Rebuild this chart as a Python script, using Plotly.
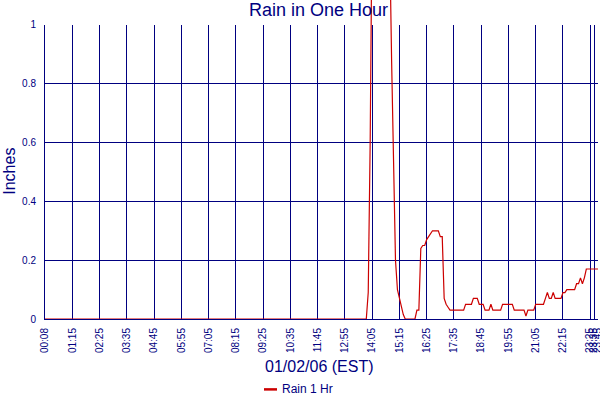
import plotly.graph_objects as go

# ---- data ----
start_label = "00:08"
# 5-minute sample times after the first reading (00:10 .. 23:45)
times = [start_label] + [f"{m // 60:02d}:{m % 60:02d}" for m in range(10, 23 * 60 + 46, 5)]

tick_labels = ["00:08", "01:15", "02:25", "03:35", "04:45", "05:55", "07:05", "08:15",
               "09:25", "10:35", "11:45", "12:55", "14:05", "15:15", "16:25", "17:35",
               "18:45", "19:55", "21:05", "22:15", "23:25", "23:35", "23:45"]

y_ticks = [0, 0.2, 0.4, 0.6, 0.8, 1]
y_tick_text = ["0", "0.2", "0.4", "0.6", "0.8", "1"]

rain_1hr = (
    [0.0] * 166 +
    [0.09, 0.60, 1.40, 1.60, 1.70, 1.75, 1.80, 1.80, 1.75, 1.60, 1.45, 1.30,   # 166-177
     0.88, 0.54, 0.20, 0.10, 0.07, 0.04, 0.015, 0.0,                            # 178-185
     0.0, 0.0, 0.0, 0.0, 0.0,                                                   # 186-190
     0.03, 0.03, 0.24, 0.25, 0.25, 0.27, 0.28, 0.29, 0.30, 0.30, 0.30, 0.30,    # 191-202
     0.28, 0.28, 0.07, 0.05, 0.04,                                              # 203-207
     0.03, 0.03, 0.03, 0.03, 0.03, 0.03, 0.03, 0.03,                            # 208-215
     0.05, 0.05, 0.05, 0.05, 0.07, 0.07, 0.07,                                  # 216-222
     0.05, 0.05, 0.05, 0.03, 0.03, 0.03, 0.05, 0.03,                            # 223-230
     0.03, 0.03, 0.03, 0.03,                                                    # 231-234
     0.05, 0.05, 0.05, 0.05, 0.05, 0.05,                                        # 235-240
     0.03, 0.03, 0.03, 0.03, 0.03, 0.03, 0.01, 0.03, 0.03, 0.03, 0.03,          # 241-251
     0.05, 0.05, 0.05, 0.05, 0.05,                                              # 252-256
     0.07, 0.09, 0.07, 0.07, 0.09, 0.07, 0.07, 0.07, 0.07,                      # 257-265
     0.09, 0.09, 0.10, 0.10, 0.10, 0.10, 0.10,                                  # 266-272
     0.12, 0.12, 0.14, 0.12, 0.14,                                              # 273-277
     0.17, 0.17, 0.17, 0.17, 0.17, 0.17, 0.17]                                  # 278-284
)

series_name = "Rain 1 Hr"
title_text = "Rain in One Hour"
x_title = "01/02/06 (EST)"
y_title = "Inches"

# ---- styling ----
NAVY = "#000080"
RED = "#CC0000"
FONT = "Liberation Sans"

W, H = 600, 400
ML, MR, MT, MB = 45, 2, 0, 80.5
plot_w = W - ML - MR
plot_h = H - MT - MB
y_one_px = 25          # pixel row of value 1
unit_px = plot_h - y_one_px

def px_x(p):
    return (p - ML) / plot_w

def px_y(p):
    return (H - MB - p) / plot_h

fig = go.Figure()

# invisible trace on the main axes so the grid subplot exists
fig.add_trace(go.Scatter(x=times, y=[None] * len(times), xaxis="x", yaxis="y",
                         showlegend=False, hoverinfo="skip"))

fig.add_trace(go.Scatter(
    x=times, y=rain_1hr, mode="lines", name=series_name,
    line=dict(color=RED, width=1.2), xaxis="x2", yaxis="y2", showlegend=False,
))

fig.update_layout(
    width=W, height=H,
    margin=dict(l=ML, r=MR, t=MT, b=MB, autoexpand=False),
    paper_bgcolor="white", plot_bgcolor="rgba(0,0,0,0)",
    font=dict(family=FONT, color=NAVY),
    showlegend=False,
    xaxis=dict(
        type="category", categoryorder="array", categoryarray=times,
        range=[0, len(times) - 1], anchor="y", automargin=False,
        tickmode="array", tickvals=tick_labels, ticktext=tick_labels,
        tickangle=-90, tickfont=dict(family=FONT, size=10, color=NAVY),
        showgrid=True, gridcolor=NAVY, gridwidth=1,
        showline=True, linecolor=NAVY, linewidth=1,
        ticks="", ticklabelstandoff=4, zeroline=False,
    ),
    yaxis=dict(
        domain=[0, unit_px / plot_h], range=[0, 1], anchor="x", automargin=False,
        tickmode="array", tickvals=y_ticks, ticktext=y_tick_text,
        tickfont=dict(family=FONT, size=10, color=NAVY),
        showgrid=True, gridcolor=NAVY, gridwidth=1,
        showline=True, linecolor=NAVY, linewidth=1,
        ticks="", ticklabelstandoff=6, zeroline=False,
    ),
    xaxis2=dict(
        type="category", categoryorder="array", categoryarray=times,
        range=[0, len(times) - 1], anchor="y2", matches="x", automargin=False,
        visible=False, showgrid=False,
    ),
    yaxis2=dict(
        domain=[0, 1], range=[0, plot_h / unit_px], anchor="x2", automargin=False,
        visible=False, showgrid=False,
    ),
)

annotations = [
    dict(text=title_text, x=px_x(318), y=px_y(10), xref="paper", yref="paper",
         showarrow=False, xanchor="center", yanchor="middle",
         font=dict(family=FONT, size=18, color=NAVY)),
    dict(text=x_title, x=px_x(319.5), y=px_y(367), xref="paper", yref="paper",
         showarrow=False, xanchor="center", yanchor="middle",
         font=dict(family=FONT, size=16, color=NAVY)),
    dict(text=y_title, x=px_x(10), y=px_y(172), xref="paper", yref="paper",
         showarrow=False, xanchor="center", yanchor="middle", textangle=-90,
         font=dict(family=FONT, size=16, color=NAVY)),
    dict(text=series_name, x=px_x(280), y=px_y(390), xref="paper", yref="paper",
         showarrow=False, xanchor="left", yanchor="middle",
         font=dict(family=FONT, size=12, color=NAVY)),
]
fig.update_layout(annotations=annotations)

fig.add_shape(type="line", xref="paper", yref="paper",
              x0=px_x(264), x1=px_x(277), y0=px_y(390), y1=px_y(390),
              line=dict(color=RED, width=2.5))

fig.write_html(
    "out.html",
    config={"displayModeBar": False},
    post_script="document.body.style.margin='0';document.body.style.padding='0';"
                "document.body.style.overflow='hidden';",
)
